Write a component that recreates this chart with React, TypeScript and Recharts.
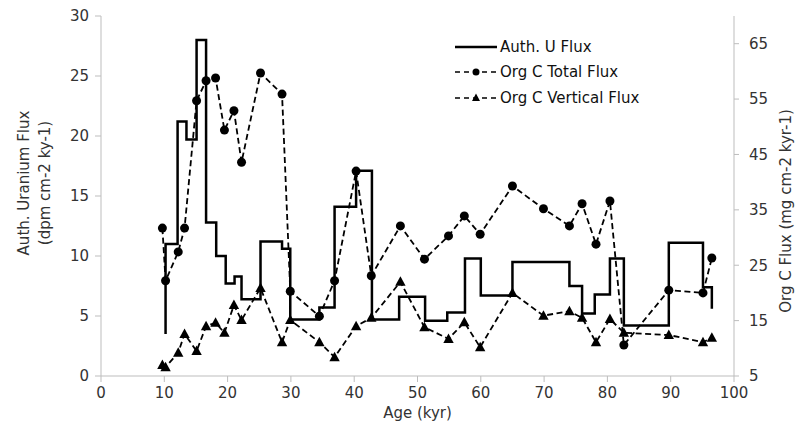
import React from 'react';
import { ComposedChart, Line, XAxis, YAxis, Label } from 'recharts';

if (typeof document !== 'undefined') document.body.style.margin = '0';

// Auth. U flux as step boundaries (age kyr, dpm cm-2 ky-1)
const uAges = [10.2, 10.2, 12.1, 12.1, 13.5, 13.5, 15.1, 15.1, 16.6, 16.6, 18.2, 18.2, 19.7, 19.7, 21.1, 21.1, 22.2, 22.2, 25.2, 25.2, 28.6, 28.6, 29.9, 29.9, 34.5, 34.5, 36.9, 36.9, 40.3, 40.3, 42.8, 42.8, 47.1, 47.1, 51.2, 51.2, 54.7, 54.7, 57.5, 57.5, 60.0, 60.0, 65.0, 65.0, 74.0, 74.0, 76.0, 76.0, 78.0, 78.0, 80.4, 80.4, 82.6, 82.6, 89.7, 89.7, 95.1, 95.1, 96.5, 96.5];
const uValues = [3.5, 11.0, 11.0, 21.2, 21.2, 19.7, 19.7, 28.0, 28.0, 12.8, 12.8, 10.0, 10.0, 7.7, 7.7, 8.3, 8.3, 6.4, 6.4, 11.2, 11.2, 10.6, 10.6, 4.7, 4.7, 5.7, 5.7, 14.1, 14.1, 17.1, 17.1, 4.7, 4.7, 6.6, 6.6, 4.6, 4.6, 5.3, 5.3, 9.8, 9.8, 6.7, 6.7, 9.5, 9.5, 7.5, 7.5, 5.2, 5.2, 6.8, 6.8, 9.8, 9.8, 4.2, 4.2, 11.1, 11.1, 7.4, 7.4, 5.6];

// Org C fluxes (mg cm-2 kyr-1)
const cAges = [9.7, 10.2, 12.2, 13.2, 15.1, 16.6, 18.1, 19.5, 21.0, 22.2, 25.2, 28.6, 29.9, 34.5, 36.9, 40.3, 42.7, 47.3, 51.1, 54.9, 57.4, 59.9, 65.0, 69.9, 74.0, 76.0, 78.2, 80.4, 82.6, 89.7, 95.1, 96.5];
const totalFlux = [31.7, 22.2, 27.4, 31.7, 54.7, 58.3, 58.8, 49.4, 52.9, 43.6, 59.7, 55.9, 20.3, 15.8, 22.2, 42.0, 23.1, 32.1, 26.1, 30.3, 33.9, 30.6, 39.3, 35.2, 32.1, 36.1, 28.8, 36.6, 10.6, 20.5, 20.0, 26.3];
const verticalFlux = [7.0, 6.6, 9.2, 12.6, 9.5, 14.0, 14.6, 12.8, 17.8, 15.1, 20.9, 11.1, 15.1, 11.1, 8.4, 14.0, 15.5, 22.0, 13.8, 11.7, 14.7, 10.2, 20.0, 15.9, 16.7, 15.5, 11.1, 15.3, 12.8, 12.4, 11.1, 11.9];

const xTicks = [0, 10, 20, 30, 40, 50, 60, 70, 80, 90, 100];
const leftTicks = [0, 5, 10, 15, 20, 25, 30];
const rightTicks = [5, 15, 25, 35, 45, 55, 65];
const legendNames = ['Auth. U Flux', 'Org C Total Flux', 'Org C Vertical Flux'];

const uData = uAges.map((age, i) => ({ age, u: uValues[i] }));
const cData = cAges.map((age, i) => ({ age, total: totalFlux[i], vertical: verticalFlux[i] }));

const FONT = '"DejaVu Sans", Verdana, sans-serif';
const AXIS = '#bdbdbd';
const TEXT = '#333';

const Triangle = (props: any) => {
  const { cx, cy } = props;
  if (cx == null || cy == null) return null;
  return <polygon points={`${cx},${cy - 5.5} ${cx - 5.2},${cy + 4} ${cx + 5.2},${cy + 4}`} fill="#000" />;
};

function ChartLegend() {
  return (
    <div style={{ position: 'absolute', left: 454, top: 34, fontFamily: FONT, fontSize: 15, color: '#111' }}>
      {legendNames.map((name, i) => (
        <div key={name} style={{ display: 'flex', alignItems: 'center', height: 25.5 }}>
          <svg width={44} height={14} style={{ marginRight: 2 }}>
            {i === 0 ? (
              <line x1={1} y1={7} x2={43} y2={7} stroke="#000" strokeWidth={2.5} />
            ) : (
              <>
                <line x1={1} y1={7} x2={43} y2={7} stroke="#000" strokeWidth={1.4} strokeDasharray="5 4" />
                {i === 1 ? (
                  <circle cx={22} cy={7} r={3.5} fill="#000" />
                ) : (
                  <polygon points="22,2.5 18,10 26,10" fill="#000" />
                )}
              </>
            )}
          </svg>
          <span>{name}</span>
        </div>
      ))}
    </div>
  );
}

export default function App() {
  return (
    <div style={{ position: 'relative', background: '#fff', width: 798, height: 431 }}>
      <ComposedChart width={798} height={431} margin={{ top: 16, right: 0, bottom: 0, left: 0 }}>
        <XAxis
          dataKey="age"
          type="number"
          domain={[0, 100]}
          ticks={xTicks}
          allowDuplicatedCategory={false}
          height={55}
          stroke={AXIS}
          tickSize={6}
          tickMargin={5}
          tick={{ fill: TEXT, fontSize: 15, fontFamily: FONT }}
        >
          <Label value="Age (kyr)" position="insideBottom" offset={13} fill={TEXT} fontSize={15} fontFamily={FONT} />
        </XAxis>
        <YAxis
          yAxisId="left"
          domain={[0, 30]}
          ticks={leftTicks}
          width={101}
          stroke={AXIS}
          tickSize={6}
          tickMargin={6}
          tick={{ fill: TEXT, fontSize: 15, fontFamily: FONT }}
        />
        <YAxis
          yAxisId="right"
          orientation="right"
          domain={[5, 70]}
          ticks={rightTicks}
          width={64}
          stroke={AXIS}
          tickSize={5}
          tickMargin={10}
          tick={{ fill: TEXT, fontSize: 15, fontFamily: FONT }}
        />
        <Line
          yAxisId="left"
          data={uData}
          dataKey="u"
          name="Auth. U Flux"
          type="linear"
          stroke="#000"
          strokeWidth={2.5}
          dot={false}
          isAnimationActive={false}
        />
        <Line
          yAxisId="right"
          data={cData}
          dataKey="total"
          name="Org C Total Flux"
          type="linear"
          stroke="#000"
          strokeWidth={1.8}
          strokeDasharray="6 3.5"
          dot={{ r: 4.5, fill: '#000', stroke: 'none' }}
          isAnimationActive={false}
        />
        <Line
          yAxisId="right"
          data={cData}
          dataKey="vertical"
          name="Org C Vertical Flux"
          type="linear"
          stroke="#000"
          strokeWidth={1.8}
          strokeDasharray="6 3.5"
          dot={<Triangle />}
          isAnimationActive={false}
        />
      </ComposedChart>
      <ChartLegend />
      <svg width={798} height={431} style={{ position: 'absolute', left: 0, top: 0, pointerEvents: 'none' }}>
        <text transform="translate(24,183) rotate(-90)" textAnchor="middle" dominantBaseline="central" fill={TEXT} fontSize={15} fontFamily={FONT}>
          Auth. Uranium Flux
        </text>
        <text transform="translate(45,183) rotate(-90)" textAnchor="middle" dominantBaseline="central" fill={TEXT} fontSize={15} fontFamily={FONT}>
          (dpm cm-2 ky-1)
        </text>
        <text transform="translate(786,211) rotate(-90)" textAnchor="middle" dominantBaseline="central" fill={TEXT} fontSize={15} fontFamily={FONT}>
          Org C Flux (mg cm-2 kyr-1)
        </text>
      </svg>
    </div>
  );
}
